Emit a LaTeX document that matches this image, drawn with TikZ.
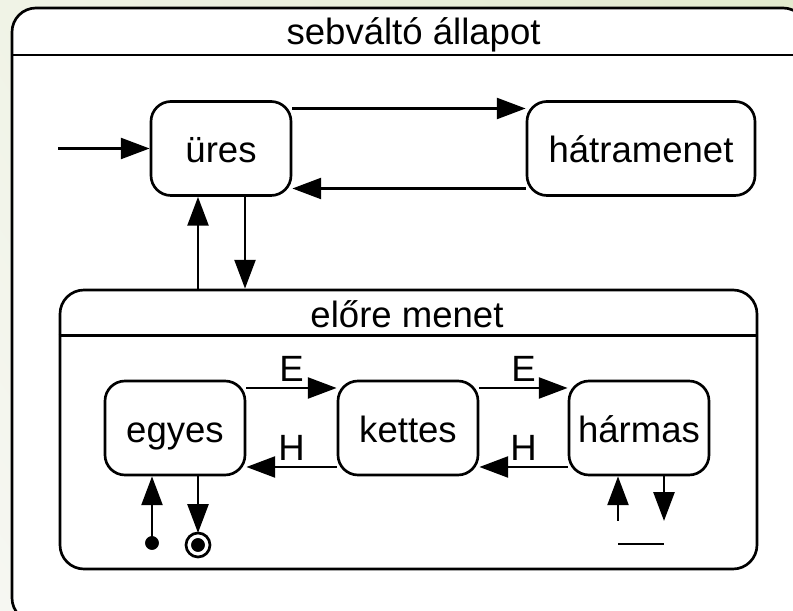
\documentclass[tikz,border=0pt]{standalone}
\usepackage{fontspec}
\setmainfont{Liberation Sans}
\usetikzlibrary{arrows.meta,shadings}

\definecolor{bgul}{RGB}{240,243,230}
\definecolor{bgur}{RGB}{226,234,206}
\definecolor{bgll}{RGB}{246,247,242}
\definecolor{bglr}{RGB}{236,240,224}

\tikzset{
	state/.style={draw, line width=1.9pt, rounded corners=0.5cm, fill=white,
		minimum width=3.5cm, minimum height=2.35cm, text height=24pt, text depth=4pt,
		font=\fontsize{26}{30}\selectfont},
	trans/.style={line width=2.1pt, -{Triangle[length=0.72cm, width=0.52cm]}},
	txt/.style={font=\fontsize{26}{30}\selectfont},
	framebox/.style={line width=1.9pt, rounded corners=0.6cm}
}

\begin{document}
\begin{tikzpicture}

	\shade[upper left=bgul, upper right=bgur, lower left=bgll, lower right=bglr]
		(0, 0) rectangle (19.825, 15.275);
	\useasboundingbox (0, 0) rectangle (19.825, 15.275);
	\clip (0, 0) rectangle (19.825, 15.275);

	\filldraw[framebox, fill=white] (0.3, -0.275) rectangle (20.175, 15.075);
	\draw[line width=1.9pt] (0.3, 13.9) -- (20.175, 13.9);
	\node[txt, anchor=base] (sebvalto) at (10.34, 14.15) {sebváltó állapot};

	\node[state] (ures) at (5.525, 11.5625) {üres};
	\node[state, minimum width=5.7cm] (hatra) at (16.025, 11.5625) {hátramenet};
	\coordinate (start) at (1.45, 11.5625);

	\node[draw, framebox, minimum width=17.425cm, minimum height=6.975cm] (elore) at (10.2125, 4.5375) {};
	\draw[line width=1.9pt] ([yshift=-1.175cm]elore.north west) -- ([yshift=-1.175cm]elore.north east);
	\node[txt, anchor=base] (eloretitle) at (10.175, 7.09) {előre menet};

	\node[state] (egyes) at (4.375, 4.575) {egyes};
	\node[state] (kettes) at (10.2, 4.575) {kettes};
	\node[state] (harmas) at (15.975, 4.575) {hármas};

	\draw[trans] (start) -- (ures);
	\draw[trans] ([yshift=1cm]ures.east) -- ([yshift=1cm]hatra.west);
	\draw[trans] ([yshift=-1cm]hatra.west) -- ([yshift=-1cm]ures.east);
	\draw[trans] ([xshift=-0.575cm]ures.south |- elore.north) -- ([xshift=-0.575cm]ures.south);
	\draw[trans] ([xshift=0.6cm]ures.south) -- ([xshift=0.6cm]ures.south |- elore.north);

	\draw[trans] ([yshift=1cm]egyes.east) -- node[txt, above] (e1) {E} ([yshift=1cm]kettes.west);
	\draw[trans] ([yshift=-0.975cm]kettes.west) -- node[txt, above] (h1) {H} ([yshift=-0.975cm]egyes.east);
	\draw[trans] ([yshift=1cm]kettes.east) -- node[txt, above] (e2) {E} ([yshift=1cm]harmas.west);
	\draw[trans] ([yshift=-0.975cm]harmas.west) -- node[txt, above] (h2) {H} ([yshift=-0.975cm]kettes.east);

	\filldraw[black] (3.8, 1.7) circle (0.165) coordinate (init);
	\draw[line width=1.9pt] (4.95, 1.65) circle (0.3);
	\filldraw[black] (4.95, 1.65) circle (0.165) coordinate (final);
	\draw[trans] (init) -- (init |- egyes.south);
	\draw[trans] (final |- egyes.south) -- ([yshift=0.3cm]final);

	\coordinate (hup) at (15.45, 2.25);
	\coordinate (hdown) at (16.6, 2.25);
	\draw[trans] (hup) -- (hup |- harmas.south);
	\draw[trans] (hdown |- harmas.south) -- (hdown);
	\draw[line width=1.9pt] (15.45, 1.675) -- (16.6, 1.675);

\end{tikzpicture}
\end{document}
